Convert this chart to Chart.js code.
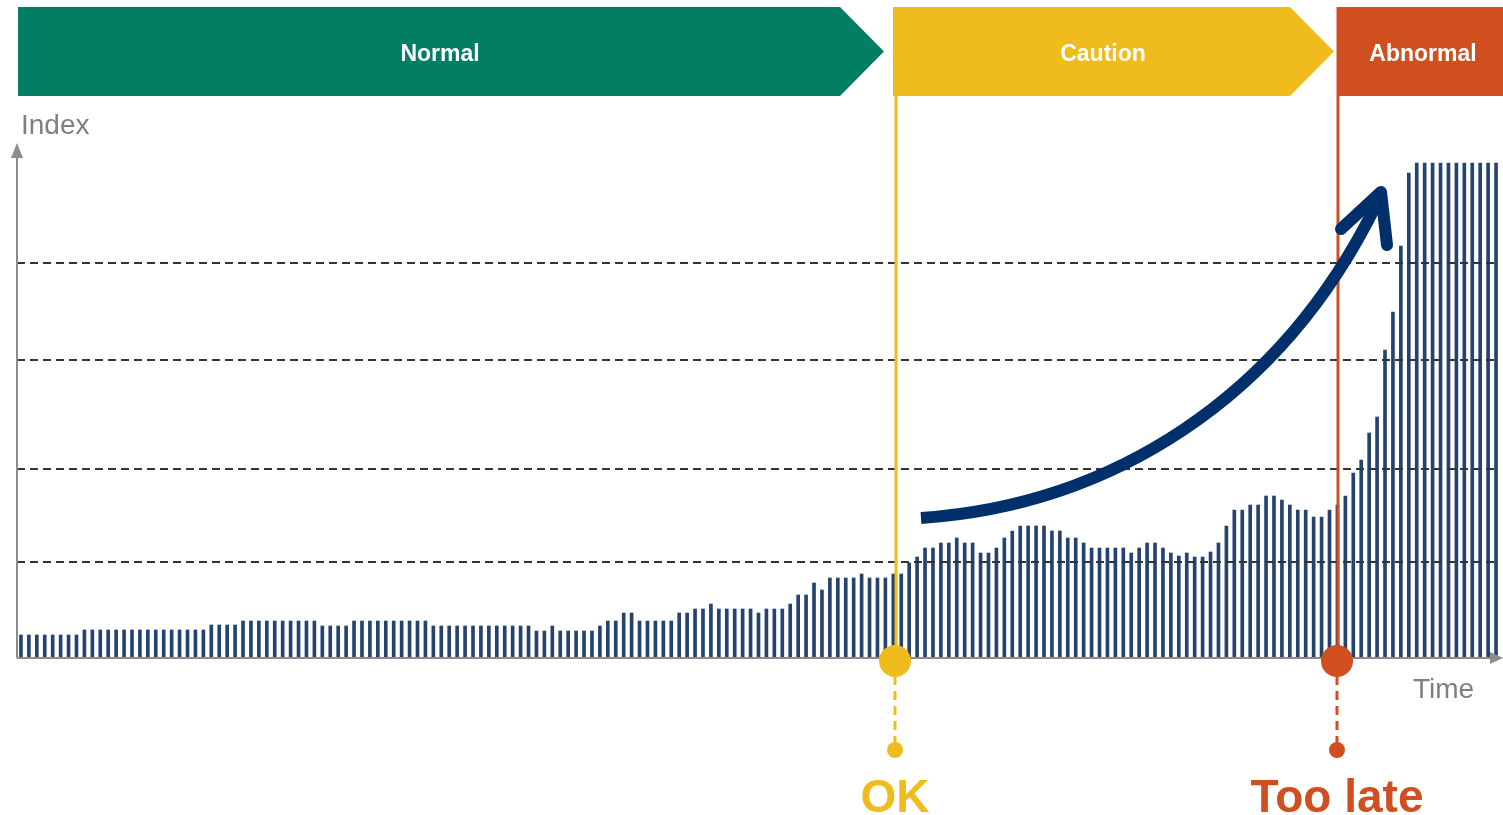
<!DOCTYPE html>
<html>
<head>
<meta charset="utf-8">
<script src="https://cdn.jsdelivr.net/npm/chart.js@4.4.1/dist/chart.umd.min.js"></script>
<style>
  html, body { margin: 0; padding: 0; background: #fff; }
  #wrap { width: 1503px; height: 815px; }
</style>
</head>
<body>
<div id="wrap"><canvas id="indexChart"></canvas></div>
<script>
// index readings, one per time step
const values = [
  23, 23, 23, 23, 23, 23, 23, 23,
  28, 28, 28, 28, 28, 28, 28, 28, 28, 28, 28, 28, 28, 28, 28, 28,
  33, 33, 33, 33,
  37, 37, 37, 37, 37, 37, 37, 37, 37, 37,
  32, 32, 32, 32,
  37, 37, 37, 37, 37, 37, 37, 37, 37, 37,
  32, 32, 32, 32, 32, 32, 32, 32, 32, 32, 32, 32, 32,
  27, 27, 32, 27, 27, 27, 27, 27, 32, 37, 37,
  45, 45, 37, 37, 37, 37, 37, 45, 45, 49, 49, 54,
  49, 49, 49, 49, 49, 45, 49, 49, 49, 54, 63, 63,
  75, 68, 80, 80, 80, 80, 84, 80, 80, 80, 84, 84,
  95, 101, 110, 110, 115, 115, 120, 115, 115, 105, 105, 110,
  120, 127, 132, 132, 132, 132, 127, 127, 120, 120, 115,
  110, 110, 110, 110, 110, 105, 110, 115, 115, 110, 105, 102,
  105, 101, 101, 106, 115, 132, 148, 148, 153, 153, 162, 162,
  158, 153, 148, 148, 141, 141, 148, 153, 162,
  185, 198, 225, 241, 308, 346, 412, 485,
  495, 495, 495, 495, 495, 495, 495, 495, 495, 495, 495
];
const labels = values.map((v, i) => i);

// dashed reference levels
const levels = [96, 189, 298, 395];

// phase bands along the top
const phaseNames = ['Normal', 'Caution', 'Abnormal'];
const phaseColors = ['#037d63', '#f0bb1c', '#cf4f20'];
// time step where the OK / Too late markers sit
const markerSteps = [110.2, 166.0];
const markerNames = ['OK', 'Too late'];

const FONT = '"Liberation Sans", Arial, sans-serif';

const overlay = {
  id: 'overlay',
  afterDatasetsDraw(chart) {
    const ctx = chart.ctx;
    const xs = chart.scales.x, ys = chart.scales.y;
    const area = chart.chartArea;
    const base = ys.getPixelForValue(0);

    // dashed levels
    ctx.save();
    ctx.strokeStyle = '#333';
    ctx.lineWidth = 2;
    ctx.setLineDash([8, 5]);
    levels.forEach(v => {
      const y = Math.round(ys.getPixelForValue(v));
      ctx.beginPath();
      ctx.moveTo(area.left, y);
      ctx.lineTo(area.right - 3, y);
      ctx.stroke();
    });
    ctx.restore();

    // axes with arrow heads
    ctx.save();
    ctx.strokeStyle = '#8c8c8c';
    ctx.fillStyle = '#8c8c8c';
    ctx.lineWidth = 2;
    ctx.beginPath();
    ctx.moveTo(area.left, base);
    ctx.lineTo(area.left, area.top + 12);
    ctx.moveTo(area.left, base);
    ctx.lineTo(1495, base);
    ctx.stroke();
    ctx.beginPath();
    ctx.moveTo(area.left, area.top);
    ctx.lineTo(area.left - 6, area.top + 15);
    ctx.lineTo(area.left + 6, area.top + 15);
    ctx.closePath();
    ctx.fill();
    ctx.beginPath();
    ctx.moveTo(1503, base);
    ctx.lineTo(1490, base - 6);
    ctx.lineTo(1490, base + 6);
    ctx.closePath();
    ctx.fill();
    ctx.font = '28px ' + FONT;
    ctx.fillStyle = '#808080';
    ctx.textBaseline = 'middle';
    ctx.textAlign = 'left';
    ctx.fillText('Index', 21, 126);
    ctx.fillText('Time', 1413, 690);
    ctx.restore();

    // header bands
    const top = 7, bot = 96, mid = (top + bot) / 2;
    ctx.save();
    ctx.fillStyle = phaseColors[0];
    ctx.beginPath();
    ctx.moveTo(18, top); ctx.lineTo(840, top); ctx.lineTo(884, mid);
    ctx.lineTo(840, bot); ctx.lineTo(18, bot); ctx.closePath();
    ctx.fill();
    ctx.fillStyle = phaseColors[1];
    ctx.beginPath();
    ctx.moveTo(893, top); ctx.lineTo(1290, top); ctx.lineTo(1334, mid);
    ctx.lineTo(1290, bot); ctx.lineTo(893, bot); ctx.closePath();
    ctx.fill();
    ctx.fillStyle = phaseColors[2];
    ctx.fillRect(1338, top, 1503 - 1338, bot - top);

    ctx.font = 'bold 23px ' + FONT;
    ctx.fillStyle = '#fff';
    ctx.textAlign = 'center';
    ctx.textBaseline = 'middle';
    ctx.fillText(phaseNames[0], 440, mid + 3);
    ctx.fillText(phaseNames[1], 1103, mid + 3);
    ctx.fillText(phaseNames[2], 1423, mid + 3);
    ctx.restore();

    // poles + markers
    markerSteps.forEach((step, i) => {
      const col = phaseColors[i + 1];
      const x = Math.round(xs.getPixelForValue(step));
      ctx.save();
      ctx.strokeStyle = col;
      ctx.fillStyle = col;
      ctx.lineWidth = 3;
      ctx.beginPath();
      ctx.moveTo(x + 1, top);
      ctx.lineTo(x + 1, base);
      ctx.stroke();
      ctx.setLineDash([9, 6]);
      ctx.beginPath();
      ctx.moveTo(x, base + 18);
      ctx.lineTo(x, 745);
      ctx.stroke();
      ctx.setLineDash([]);
      ctx.beginPath();
      ctx.arc(x, base + 3, 16, 0, Math.PI * 2);
      ctx.fill();
      ctx.beginPath();
      ctx.arc(x, 750, 8, 0, Math.PI * 2);
      ctx.fill();
      ctx.font = 'bold 46px ' + FONT;
      ctx.textAlign = 'center';
      ctx.textBaseline = 'alphabetic';
      ctx.fillText(markerNames[i], x, 812);
      ctx.restore();
    });

    // rising trend arrow
    ctx.save();
    ctx.strokeStyle = '#00306b';
    ctx.lineWidth = 12;
    ctx.lineJoin = 'round';
    ctx.beginPath();
    ctx.moveTo(921, 518);
    ctx.bezierCurveTo(1110, 505, 1280, 400, 1376, 205);
    ctx.stroke();
    ctx.lineCap = 'round';
    ctx.beginPath();
    ctx.moveTo(1341, 229);
    ctx.lineTo(1381, 192);
    ctx.lineTo(1387, 245);
    ctx.stroke();
    ctx.restore();
  }
};

new Chart(document.getElementById('indexChart'), {
  type: 'bar',
  data: {
    labels: labels,
    datasets: [{
      data: values,
      backgroundColor: '#24436f',
      barThickness: 3,
      borderWidth: 0
    }]
  },
  options: {
    responsive: true,
    maintainAspectRatio: false,
    animation: false,
    layout: { padding: { left: 17, top: 143, right: 3, bottom: 157 } },
    plugins: {
      legend: { display: false },
      tooltip: { enabled: false }
    },
    scales: {
      x: { display: false, grid: { display: false } },
      y: { display: false, min: 0, max: 515, grid: { display: false } }
    }
  },
  plugins: [overlay]
});
</script>
</body>
</html>
